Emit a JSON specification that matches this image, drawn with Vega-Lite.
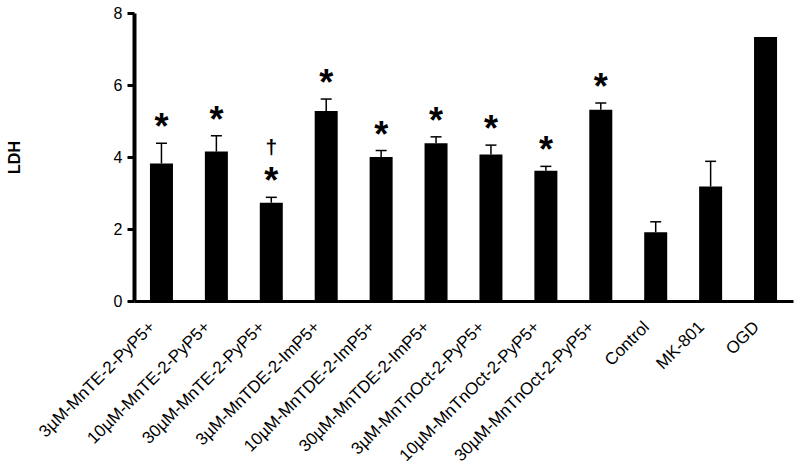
{
  "$schema": "https://vega.github.io/schema/vega-lite/v6.json",
  "width": 659,
  "height": 288,
  "autosize": {"type": "none"},
  "padding": {"left": 134, "top": 13, "right": 7, "bottom": 171},
  "config": {"font": "Liberation Sans", "view": {"stroke": null}},
  "data": {
    "values": [
      {"group": "3µM-MnTE-2-PyP5+", "ldh": 3.82, "err": 4.38, "sig": "*"},
      {"group": "10µM-MnTE-2-PyP5+", "ldh": 4.15, "err": 4.59, "sig": "*"},
      {"group": "30µM-MnTE-2-PyP5+", "ldh": 2.73, "err": 2.88, "sig": "*", "dagger": "†"},
      {"group": "3µM-MnTDE-2-ImP5+", "ldh": 5.28, "err": 5.61, "sig": "*"},
      {"group": "10µM-MnTDE-2-ImP5+", "ldh": 4.0, "err": 4.18, "sig": "*"},
      {"group": "30µM-MnTDE-2-ImP5+", "ldh": 4.38, "err": 4.56, "sig": "*"},
      {"group": "3µM-MnTnOct-2-PyP5+", "ldh": 4.07, "err": 4.33, "sig": "*"},
      {"group": "10µM-MnTnOct-2-PyP5+", "ldh": 3.62, "err": 3.74, "sig": "*"},
      {"group": "30µM-MnTnOct-2-PyP5+", "ldh": 5.31, "err": 5.5, "sig": "*"},
      {"group": "Control", "ldh": 1.91, "err": 2.2},
      {"group": "MK-801", "ldh": 3.18, "err": 3.88},
      {"group": "OGD", "ldh": 7.33}
    ]
  },
  "encoding": {
    "x": {
      "field": "group",
      "type": "nominal",
      "sort": null,
      "scale": {"paddingInner": 0, "paddingOuter": 0},
      "axis": {
        "title": null,
        "labelAngle": -45,
        "labelAlign": "right",
        "labelBaseline": "middle",
        "labelFontSize": 17,
        "labelColor": "black",
        "labelLimit": 0,
        "labelOffset": -9,
        "ticks": false,
        "labelPadding": 23,
        "domainWidth": 3,
        "domainColor": "black"
      }
    }
  },
  "layer": [
    {
      "mark": {"type": "bar", "size": 23, "color": "black"},
      "encoding": {
        "y": {
          "field": "ldh",
          "type": "quantitative",
          "title": "LDH",
          "scale": {"domain": [0, 8]},
          "axis": {
            "values": [0, 2, 4, 6, 8],
            "grid": false,
            "titleFontSize": 16,
            "titleFontWeight": "bold",
            "titleColor": "black",
            "titleAngle": -90,
            "titleX": -120,
            "titleY": 144,
            "titleAlign": "center",
            "titleBaseline": "middle",
            "labelFontSize": 16,
            "labelColor": "black",
            "labelPadding": 5,
            "tickSize": 7,
            "tickWidth": 3,
            "tickColor": "black",
            "domainWidth": 4,
            "domainColor": "black"
          }
        }
      }
    },
    {
      "transform": [{"filter": "datum.err != null"}],
      "mark": {"type": "rule", "color": "black", "strokeWidth": 1.5},
      "encoding": {
        "y": {"field": "ldh", "type": "quantitative", "title": "LDH"},
        "y2": {"field": "err"}
      }
    },
    {
      "transform": [{"filter": "datum.err != null"}],
      "mark": {"type": "tick", "color": "black", "thickness": 1.5, "size": 11, "opacity": 1},
      "encoding": {
        "y": {"field": "err", "type": "quantitative", "title": "LDH"}
      }
    },
    {
      "transform": [{"filter": "datum.sig != null"}],
      "mark": {"type": "text", "fontSize": 36, "fontWeight": "bold", "baseline": "alphabetic", "dy": -4, "color": "black"},
      "encoding": {
        "y": {"field": "err", "type": "quantitative", "title": "LDH"},
        "text": {"field": "sig"}
      }
    },
    {
      "transform": [{"filter": "datum.dagger != null"}],
      "mark": {"type": "text", "fontSize": 21, "fontWeight": "bold", "baseline": "alphabetic", "dy": -43, "color": "black"},
      "encoding": {
        "y": {"field": "err", "type": "quantitative", "title": "LDH"},
        "text": {"field": "dagger"}
      }
    }
  ]
}
